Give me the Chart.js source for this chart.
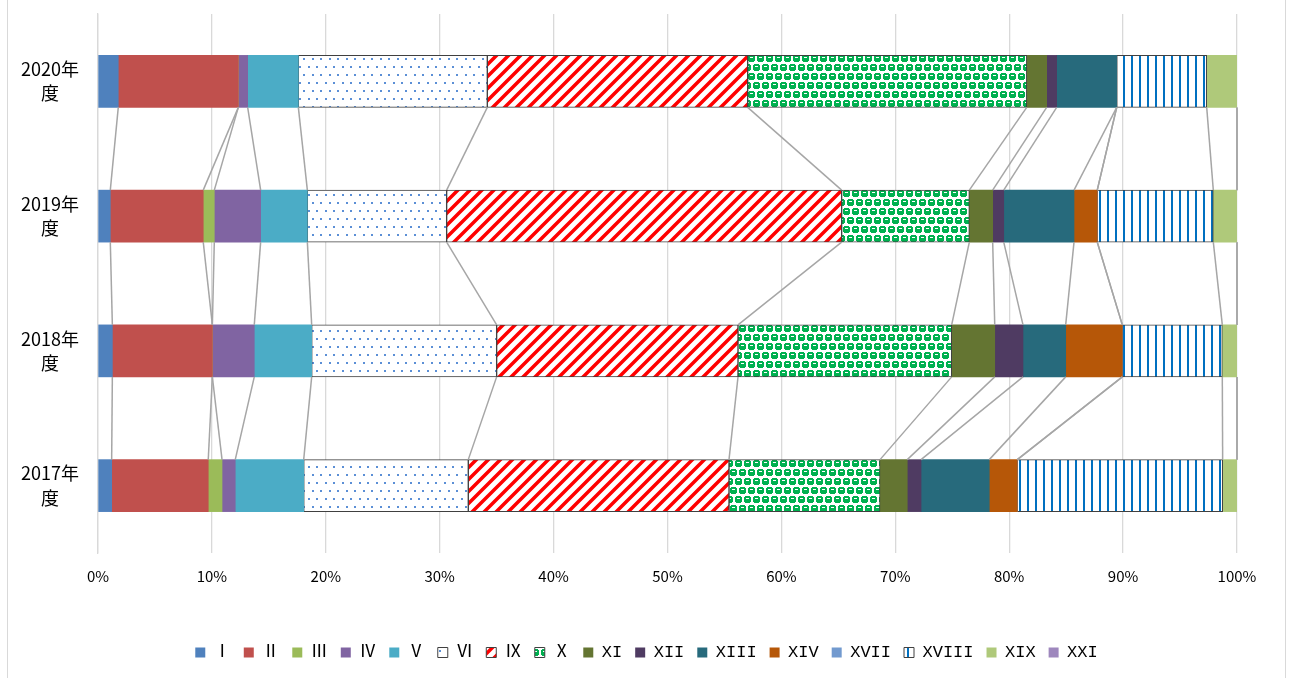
<!DOCTYPE html>
<html>
<head>
<meta charset="utf-8">
<script src="https://cdn.jsdelivr.net/npm/chart.js@4"></script>
<style>
  html, body { margin: 0; padding: 0; background: #fff; }
  #wrap { position: relative; width: 1293px; height: 678px; }
  #frame { position: absolute; left: 7px; top: -1px; width: 1279px; height: 680px;
           border: 1px solid #d9d9d9; box-sizing: border-box; pointer-events: none; }
</style>
</head>
<body>
<div id="wrap">
  <canvas id="chart" width="1293" height="678"></canvas>
  <div id="frame"></div>
</div>
<script>
// categories, top to bottom
const years = [["2020年", "度"], ["2019年", "度"], ["2018年", "度"], ["2017年", "度"]];
const seriesNames = ["Ⅰ", "Ⅱ", "Ⅲ", "Ⅳ", "Ⅴ", "Ⅵ", "Ⅸ", "Ⅹ", "XI", "XII", "XIII", "XIV", "XVII", "XVIII", "XIX", "XXI"];

// share in % per year (2020, 2019, 2018, 2017)
const s01 = [1.78, 1.08, 1.26, 1.20];
const s02 = [10.54, 8.16, 8.78, 8.48];
const s03 = [0, 0.97, 0, 1.21];
const s04 = [0.82, 4.07, 3.68, 1.16];
const s05 = [4.45, 4.10, 5.04, 6.01];
const s06 = [16.59, 12.23, 16.24, 14.45];
const s09 = [22.86, 34.68, 21.19, 22.89];
const s10 = [24.50, 11.21, 18.76, 13.26];
const s11 = [1.75, 2.05, 3.78, 2.39];
const s12 = [0.88, 0.97, 2.48, 1.21];
const s13 = [5.27, 6.17, 3.75, 5.99];
const s14 = [0, 2.04, 4.97, 2.46];
const s17 = [0, 0, 0, 0];
const s18 = [7.90, 10.19, 8.78, 18.03];
const s19 = [2.66, 2.08, 1.29, 1.26];
const s21 = [0, 0, 0, 0];

const xTicks = [0, 10, 20, 30, 40, 50, 60, 70, 80, 90, 100];

// fill patterns
function makePattern(w, h, draw) {
  const c = document.createElement("canvas");
  c.width = w; c.height = h;
  const g = c.getContext("2d");
  g.fillStyle = "#fff";
  g.fillRect(0, 0, w, h);
  draw(g);
  return document.getElementById("chart").getContext("2d").createPattern(c, "repeat");
}

const dots = makePattern(17, 16, g => {
  g.fillStyle = "#5b8fd6";
  g.fillRect(2, 2, 2, 2);
  g.fillRect(10, 2, 2, 2);
  g.fillRect(6, 10, 2, 2);
  g.fillRect(14, 10, 2, 2);
});
const stripes = makePattern(12, 12, g => {
  g.strokeStyle = "#ff0000";
  g.lineWidth = 3.5;
  g.beginPath();
  g.moveTo(-3, 15); g.lineTo(15, -3);
  g.moveTo(-9, 9); g.lineTo(9, -9);
  g.moveTo(3, 21); g.lineTo(21, 3);
  g.stroke();
});
const checks = makePattern(18, 18, g => {
  const blob = (x, y) => {
    g.fillStyle = "#00b050";
    g.fillRect(x + 1, y, 5, 7);
    g.fillRect(x, y + 1, 7, 5);
    g.fillStyle = "#fff";
    g.fillRect(x + 2, y + 2, 3, 1);
  };
  blob(1, 1); blob(10, 1); blob(6, 10); blob(15, 10); blob(-3, 10);
});
const vlines = makePattern(8, 8, g => {
  g.fillStyle = "#0070c0";
  g.fillRect(3, 0, 2, 8);
});

const seriesData = [s01, s02, s03, s04, s05, s06, s09, s10, s11, s12, s13, s14, s17, s18, s19, s21];
const fills = ["#4f81bd", "#c0504d", "#9bbb59", "#8064a2", "#4bacc6", dots, stripes, checks,
               "#647532", "#4f3b62", "#276a7c", "#b65708", "#729acf", vlines, "#afc97a", "#9e87bd"];
const patterned = [5, 6, 7, 13];

const datasets = seriesNames.map((name, i) => ({
  label: name,
  data: seriesData[i],
  backgroundColor: fills[i],
  borderColor: patterned.includes(i) ? "#404040" : "rgba(0,0,0,0)",
  borderWidth: patterned.includes(i) ? 1 : 0,
  borderSkipped: false,
  barThickness: 52,
}));

// grey connector lines between bars, like Excel series lines
const seriesLines = {
  id: "seriesLines",
  afterDatasetsDraw(chart) {
    const ctx = chart.ctx;
    const xs = chart.scales.x;
    const nCat = years.length;
    ctx.save();
    ctx.strokeStyle = "#a6a6a6";
    ctx.lineWidth = 1.5;
    for (let r = 0; r < nCat - 1; r++) {
      const upper = chart.getDatasetMeta(0).data[r];
      const lower = chart.getDatasetMeta(0).data[r + 1];
      const y1 = upper.y + upper.height / 2;
      const y2 = lower.y - lower.height / 2;
      let c1 = 0, c2 = 0;
      seriesData.forEach(arr => {
        c1 += arr[r];
        c2 += arr[r + 1];
        ctx.beginPath();
        ctx.moveTo(xs.getPixelForValue(c1), y1);
        ctx.lineTo(xs.getPixelForValue(c2), y2);
        ctx.stroke();
      });
    }
    ctx.restore();
  }
};

Chart.defaults.font.family = "'Noto Sans CJK JP', sans-serif";
Chart.defaults.color = "#000";

new Chart(document.getElementById("chart"), {
  type: "bar",
  data: { labels: years, datasets },
  options: {
    indexAxis: "y",
    responsive: false,
    animation: false,
    layout: { padding: { left: 0, right: 0, top: 14, bottom: 7 } },
    scales: {
      x: {
        stacked: true,
        min: 0,
        max: 100,
        afterBuildTicks: scale => { scale.ticks = xTicks.map(v => ({ value: v })); },
        afterFit: scale => { scale.height = 78; scale.paddingLeft = 0; scale.paddingRight = 56; },
        grid: { color: "#d9d9d9", lineWidth: 1.3, drawTicks: false },
        border: { display: false },
        ticks: { font: { size: 15 }, padding: 14, callback: v => v + "%" },
      },
      y: {
        stacked: true,
        afterFit: scale => { scale.width = 98; scale.paddingTop = 0; scale.paddingBottom = 0; },
        grid: { display: false, drawTicks: false },
        border: { color: "#d9d9d9", width: 1.3 },
        ticks: { font: { size: 18, lineHeight: 1.35 }, padding: 19, crossAlign: "center" },
      },
    },
    plugins: {
      legend: {
        position: "bottom",
        labels: {
          boxWidth: 10, boxHeight: 10, padding: 13,
          font: { size: 17, family: "'Liberation Mono', 'Noto Sans CJK JP', monospace" },
        },
      },
      tooltip: { enabled: false },
    },
  },
  plugins: [seriesLines],
});
</script>
</body>
</html>
